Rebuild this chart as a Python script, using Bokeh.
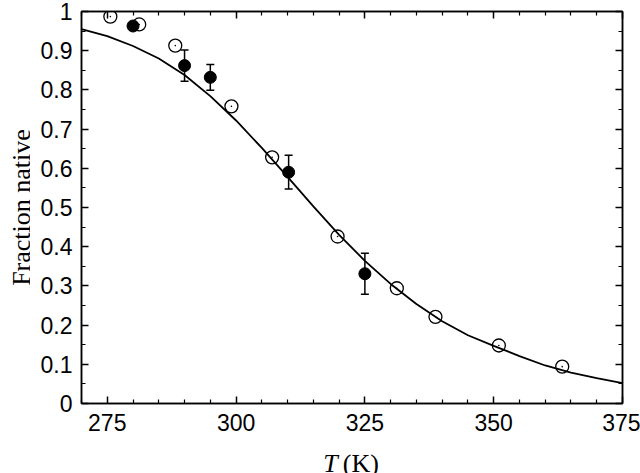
from math import pi
from bokeh.plotting import figure
from bokeh.models import (Range1d, LinearAxis, FixedTicker, Whisker, TeeHead,
                          ColumnDataSource)
from bokeh.layouts import gridplot
from bokeh.core.properties import value
from bokeh.embed import file_html
from bokeh.resources import INLINE

# ---- data ----
open_T = [275.6, 281.2, 288.2, 299.1, 307.0, 319.7, 331.2, 338.7, 351.0, 363.3]
open_f = [0.987, 0.967, 0.913, 0.758, 0.628, 0.426, 0.294, 0.221, 0.148, 0.094]

filled_T = [280.0, 290.0, 295.0, 310.2, 325.0]
filled_f = [0.963, 0.862, 0.832, 0.590, 0.331]
filled_err = [0.0, 0.040, 0.033, 0.043, 0.052]

curve_T = [270, 275, 280, 285, 290, 295, 300, 305, 310, 315, 320,
           325, 330, 335, 340, 345, 350, 355, 360, 365, 370, 375]
curve_f = [0.955, 0.937, 0.912, 0.880, 0.838, 0.784, 0.722, 0.652, 0.578, 0.503, 0.430,
           0.364, 0.305, 0.254, 0.210, 0.174, 0.147, 0.121, 0.097, 0.079, 0.065, 0.052]

x_major = [275, 300, 325, 350, 375]
x_minor = [270, 280, 285, 290, 295, 305, 310, 315, 320, 330, 335, 340, 345,
           355, 360, 365, 370]
y_major = [0, 0.1, 0.2, 0.3, 0.4, 0.5, 0.6, 0.7, 0.8, 0.9, 1.0]
y_major_labels = ["0", "0.1", "0.2", "0.3", "0.4", "0.5", "0.6", "0.7", "0.8", "0.9", "1"]
y_minor = [0.05, 0.15, 0.25, 0.35, 0.45, 0.55, 0.65, 0.75, 0.85, 0.95]

x_label_var = "T"
x_label_unit = "(K)"
y_label = "Fraction native"

TICK_FONT = "23px"
TITLE_FONT = "26px"

xr = Range1d(270, 375)
yr = Range1d(0, 1)

# ---- main figure ----
p = figure(width=610, height=443, output_backend="svg", toolbar_location=None,
           x_range=xr, y_range=yr,
           min_border_left=51, min_border_right=18, min_border_top=11,
           min_border_bottom=40, background_fill_color="white",
           border_fill_color="white")
p.xgrid.visible = False
p.ygrid.visible = False
p.outline_line_color = "black"
p.outline_line_width = 1.5


def style(ax, show_labels):
    ax.axis_line_color = "black"
    ax.axis_line_width = 1.5
    ax.major_tick_in = 7
    ax.major_tick_out = 0
    ax.minor_tick_in = 4
    ax.minor_tick_out = 0
    ax.major_tick_line_color = "black"
    ax.minor_tick_line_color = "black"
    ax.major_tick_line_width = 1.5
    ax.minor_tick_line_width = 1.2
    if show_labels:
        ax.major_label_text_font = "Liberation Sans"
        ax.major_label_text_font_size = TICK_FONT
        ax.major_label_text_color = "black"
    else:
        ax.major_label_text_font_size = "0px"
        ax.major_label_standoff = 0


xa = p.xaxis[0]
xa.ticker = FixedTicker(ticks=x_major, minor_ticks=x_minor)
style(xa, True)
xa.major_label_standoff = 10

ya = p.yaxis[0]
ya.ticker = FixedTicker(ticks=y_major, minor_ticks=y_minor)
ya.major_label_overrides = {v: s for v, s in zip(y_major, y_major_labels)}
style(ya, True)
ya.major_label_standoff = 9

top = LinearAxis(ticker=FixedTicker(ticks=x_major, minor_ticks=x_minor))
style(top, False)
p.add_layout(top, "above")
right = LinearAxis(ticker=FixedTicker(ticks=y_major, minor_ticks=y_minor))
style(right, False)
p.add_layout(right, "right")

# ---- fitted curve ----
p.line(curve_T, curve_f, line_color="black", line_width=1.8)

# ---- open circles ----
p.scatter(open_T, open_f, marker="circle", size=13, fill_color="white",
          fill_alpha=0.0, line_color="black", line_width=1.3)
p.scatter(open_T, open_f, marker="circle", size=1.6, fill_color="black",
          line_color=None)

# ---- filled circles with error bars ----
eT, lo, hi = [], [], []
for t, f, e in zip(filled_T, filled_f, filled_err):
    if e > 0:
        eT.append(t)
        lo.append(f - e)
        hi.append(f + e)
src = ColumnDataSource(data=dict(base=eT, lower=lo, upper=hi))
wh = Whisker(base="base", lower="lower", upper="upper", source=src,
             line_color="black", line_width=1.5,
             upper_head=TeeHead(size=8, line_color="black", line_width=1.5),
             lower_head=TeeHead(size=8, line_color="black", line_width=1.5))
p.add_layout(wh)
p.scatter(filled_T, filled_f, marker="circle", size=12, fill_color="black",
          line_color="black")

# ---- y-axis title strip ----
r = figure(width=30, height=443, output_backend="svg", toolbar_location=None,
           x_range=Range1d(0, 30), y_range=yr,
           x_axis_type=None, y_axis_type=None, min_border_left=0,
           min_border_right=0, min_border_top=11, min_border_bottom=40,
           outline_line_color=None, background_fill_color="white",
           border_fill_color="white")
r.text(x=[21], y=[0.5], text=[y_label], angle=pi / 2, text_align="center",
       text_baseline="alphabetic", text_font=value("Liberation Serif"),
       text_font_size=TITLE_FONT, text_color="black")

# ---- x-axis title strip (italic T + upright (K)) ----
q = figure(width=610, height=30, output_backend="svg", toolbar_location=None,
           x_range=xr, y_range=Range1d(0, 30),
           x_axis_type=None, y_axis_type=None, min_border_left=51,
           min_border_right=18, min_border_top=0, min_border_bottom=0,
           outline_line_color=None, background_fill_color="white",
           border_fill_color="white")
q.text(x=[316.9], y=[10], text=[x_label_var], text_align="left",
       text_baseline="alphabetic", text_font=value("Liberation Serif"),
       text_font_style="italic", text_font_size=TITLE_FONT, text_color="black")
q.text(x=[320.7], y=[10], text=[x_label_unit], text_align="left",
       text_baseline="alphabetic", text_font=value("Liberation Serif"),
       text_font_size=TITLE_FONT, text_color="black")

layout = gridplot([[r, p], [None, q]], toolbar_location=None)
open("out.html", "w").write(file_html(layout, INLINE))
